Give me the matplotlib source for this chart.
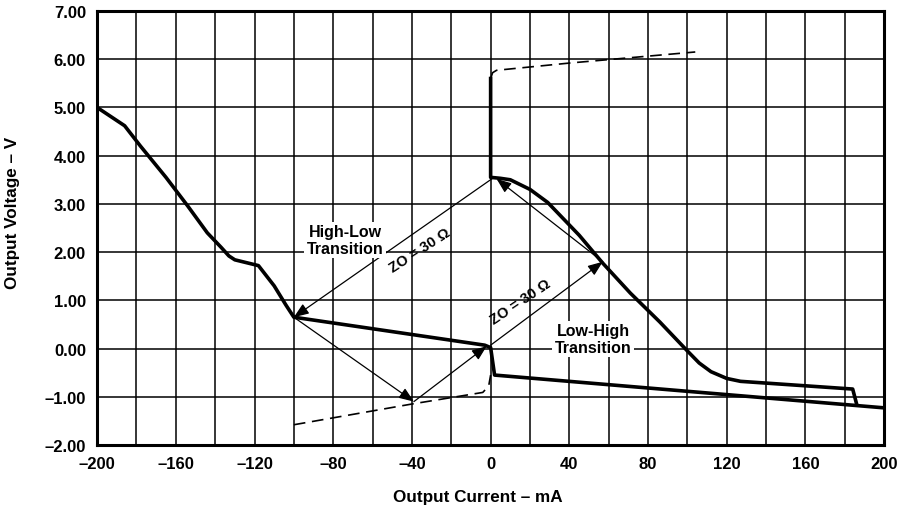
import matplotlib
matplotlib.use("Agg")
import matplotlib.pyplot as plt
import numpy as np

plt.rcParams['font.family'] = ['Liberation Sans', 'DejaVu Sans']
plt.rcParams['font.weight'] = 'bold'

# driver output characteristic (thick solid)
low_x = [-200, -186, -178, -165, -154, -144, -137, -133, -130, -118, -110, -104, -100,
         -3, 0, 2, 200]
low_y = [5.00, 4.62, 4.20, 3.55, 2.96, 2.40, 2.10, 1.92, 1.84, 1.72, 1.30, 0.90, 0.65,
         0.07, 0.02, -0.55, -1.23]
high_x = [0, 0, 5, 10, 20, 29, 45, 57, 71, 86, 100, 106, 112, 120, 127, 184, 186]
high_y = [5.60, 3.55, 3.53, 3.50, 3.30, 3.03, 2.35, 1.77, 1.15, 0.55, -0.05, -0.30, -0.48,
          -0.62, -0.68, -0.84, -1.15]
# dashed extensions
dash_hi_x = [0, 1, 3, 40, 104]
dash_hi_y = [5.60, 5.72, 5.77, 5.92, 6.15]
dash_lo_x = [-100, -40, -4, -1, 0]
dash_lo_y = [-1.58, -1.15, -0.91, -0.78, -0.55]

# reflection diagram arrows (start, end)
arrows = [((1, 3.53), (-100, 0.65)),
          ((-100, 0.65), (-39, -1.10)),
          ((-39, -1.10), (-2, 0.05)),
          ((0, 0.07), (57, 1.80)),
          ((57, 1.80), (3, 3.52))]

FS = 12
fig = plt.figure(figsize=(8.99, 5.10), dpi=100)
ax = fig.add_axes([0.108, 0.1255, 0.8755, 0.851])

ax.plot(low_x, low_y, color='k', lw=2.6, solid_joinstyle='round', zorder=3)
ax.plot(high_x, high_y, color='k', lw=2.6, solid_joinstyle='round', zorder=3)
ax.plot(dash_hi_x, dash_hi_y, color='k', lw=1.2, ls=(0, (7, 4)), zorder=3)
ax.plot(dash_lo_x, dash_lo_y, color='k', lw=1.2, ls=(0, (7, 4)), zorder=3)

for (x0, y0), (x1, y1) in arrows:
    ax.annotate('', xy=(x1, y1), xytext=(x0, y0),
                arrowprops=dict(arrowstyle='-|>,head_length=0.9,head_width=0.35',
                                color='k', lw=0.9, shrinkA=0, shrinkB=0), zorder=4)

bb = dict(facecolor='white', edgecolor='none', pad=2)
ax.text(-74, 2.25, 'High-Low\nTransition', ha='center', va='center', fontweight='bold',
        fontsize=11.5, linespacing=1.1, bbox=bb, zorder=5)
ax.text(52, 0.20, 'Low-High\nTransition', ha='center', va='center', fontweight='bold',
        fontsize=11.5, linespacing=1.1, bbox=bb, zorder=5)
ax.text(-36, 2.04, 'ZO = 30 Ω', ha='center', va='center', rotation=33,
        fontweight='bold', fontsize=10.5, zorder=5)
ax.text(15, 0.98, 'ZO = 30 Ω', ha='center', va='center', rotation=34,
        fontweight='bold', fontsize=10.5, zorder=5)

ax.set_xlim(-200, 200)
ax.set_ylim(-2, 7)
xt = np.arange(-200, 201, 40)
ax.set_xticks(xt)
ax.set_xticklabels([str(v).replace('-', '\u2013') for v in xt], fontsize=FS, fontweight='bold')
ax.set_xticks(np.arange(-200, 201, 20), minor=True)
yt = np.arange(-2, 8, 1)
ax.set_yticks(yt)
ax.set_yticklabels([f'{v:.2f}'.replace('-', '\u2013') for v in yt], fontsize=FS, fontweight='bold')
ax.tick_params(which='both', length=0, pad=8)
ax.grid(which='both', color='k', lw=1.1)
ax.set_axisbelow(True)
for s in ax.spines.values():
    s.set_linewidth(2.2)

fig.text(478 / 899, 1 - 498 / 510, 'Output Current \u2013 mA', ha='center', va='center',
         fontsize=12.3, fontweight='bold')
fig.text(13 / 899, 1 - 213 / 510, 'Output Voltage \u2013 V', ha='center', va='center',
         rotation=90, fontsize=12.3, fontweight='bold')

fig.savefig('out.png', dpi=100)
